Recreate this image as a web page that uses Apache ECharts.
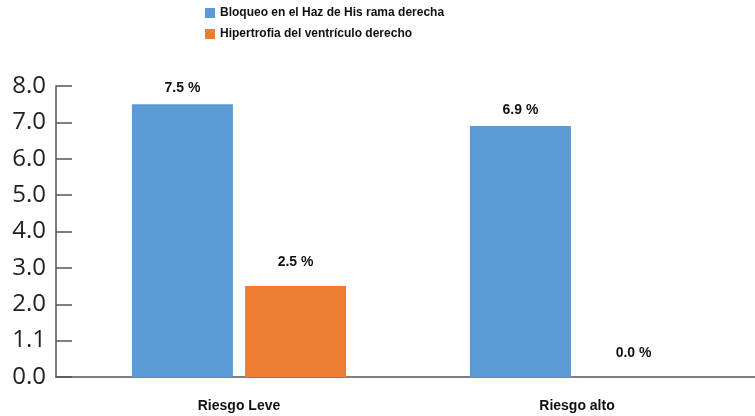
<!DOCTYPE html>
<html><head><meta charset="utf-8">
<script src="https://cdn.jsdelivr.net/npm/echarts@6/dist/echarts.min.js"></script>
<style>html,body{margin:0;padding:0;background:#fff}#c{width:755px;height:416px}</style>
</head><body><div id="c"></div>
<script>
const categories = ['Riesgo Leve', 'Riesgo alto'];
const seriesNames = ['Bloqueo en el Haz de His rama derecha', 'Hipertrofia del ventrículo derecho'];
const bloqueo = [7.5, 6.9];
const hipertrofia = [2.5, 0.0];
const yTickLabels = ['0.0', '1.1', '2.0', '3.0', '4.0', '5.0', '6.0', '7.0', '8.0'];

const chart = echarts.init(document.getElementById('c'));
const labelStyle = {
  show: true, position: 'top', color: '#111', fontWeight: 'bold', fontSize: 14,
  fontFamily: 'Liberation Sans, Arial, sans-serif',
  formatter: p => p.value.toFixed(1) + ' %'
};
chart.setOption({
  animation: false,
  legend: {
    orient: 'vertical', left: 200, top: 2, itemWidth: 10, itemHeight: 10, itemGap: 9,
    icon: 'rect',
    textStyle: { fontWeight: 'bold', fontSize: 12, color: '#111', fontFamily: 'Liberation Sans, Arial, sans-serif' }
  },
  grid: [
    { left: 56, right: 0, top: 86, bottom: 39, containLabel: false },
    { left: 70, right: 9, top: 86, bottom: 39, containLabel: false }
  ],
  xAxis: [
    { gridIndex: 0, type: 'category', data: categories,
      axisLine: { lineStyle: { color: '#555', width: 1.5 } },
      axisTick: { show: false }, axisLabel: { show: false } },
    { gridIndex: 1, type: 'category', data: categories,
      axisLine: { show: false }, axisTick: { show: false },
      axisLabel: { color: '#111', fontWeight: 'bold', fontSize: 14, margin: 22, fontFamily: 'Liberation Sans, Arial, sans-serif' } }
  ],
  yAxis: [
    { gridIndex: 0, type: 'value', min: 0, max: 8, interval: 1,
      axisLine: { show: true, lineStyle: { color: '#555', width: 1.5 } },
      axisTick: { show: true, inside: true, length: 16, lineStyle: { color: '#555', width: 1.5 } },
      splitLine: { show: false },
      axisLabel: {
        color: '#222', fontSize: 24, margin: 10, fontFamily: 'Open Sans, DejaVu Sans, sans-serif',
        formatter: v => yTickLabels[Math.round(v)]
      } },
    { gridIndex: 1, type: 'value', min: 0, max: 8, interval: 1, show: false }
  ],
  series: [
    { name: seriesNames[0], type: 'bar', xAxisIndex: 1, yAxisIndex: 1, data: bloqueo, barWidth: 101, barGap: '12%',
      itemStyle: { color: '#5B9BD5' }, label: Object.assign({}, labelStyle, { distance: 9 }) },
    { name: seriesNames[1], type: 'bar', xAxisIndex: 1, yAxisIndex: 1, data: hipertrofia, barWidth: 101,
      itemStyle: { color: '#ED7D31' }, label: Object.assign({}, labelStyle, { distance: 17 }) }
  ]
});
</script></body></html>
